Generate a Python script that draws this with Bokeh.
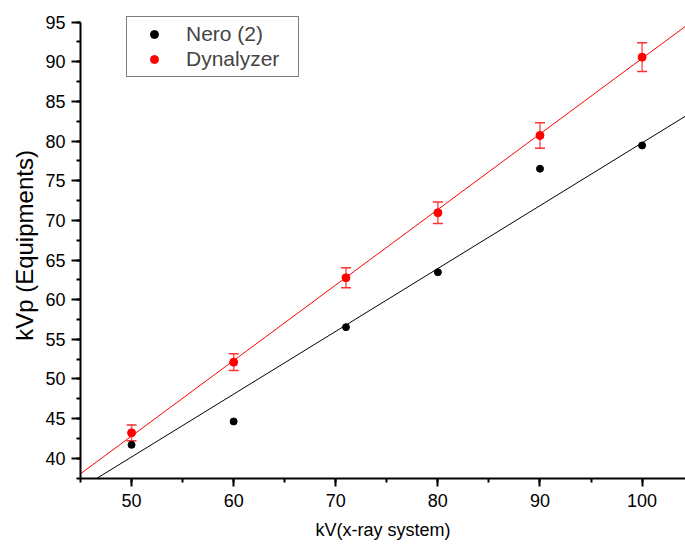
import numpy as np
from bokeh.plotting import figure
from bokeh.models import (ColumnDataSource, Whisker, TeeHead, Legend, LegendItem,
                          SingleIntervalTicker, FixedTicker, LinearAxis, Range1d)
from bokeh.embed import file_html
from bokeh.resources import INLINE

# ---- data ----
kv_system = [50, 60, 71, 80, 90, 100]
nero_kvp = [41.69, 44.63, 56.53, 63.46, 76.51, 79.45]
dyn_kvp = [43.2, 52.11, 62.76, 70.96, 80.71, 90.59]
dyn_err = [1.0, 1.05, 1.25, 1.35, 1.6, 1.8]
# linear fits (slope, intercept) as drawn in the picture
nero_fit = [0.7925, 0.53]
dyn_fit = [0.9527, -4.84]
x_limits = [45, 104.25]
y_limits = [37.44, 96.22]
y_axis_top = 95

FONT = "Liberation Sans"

p = figure(width=685, height=545, output_backend="svg", toolbar_location=None,
           x_range=Range1d(*x_limits), y_range=Range1d(*y_limits),
           min_border_left=80, min_border_right=0, min_border_top=12,
           min_border_bottom=67)
p.outline_line_color = None
p.xgrid.visible = False
p.ygrid.visible = False
p.background_fill_color = "white"
p.border_fill_color = "white"

# fit lines
fx = np.array(x_limits, dtype=float)
black_line = p.line(fx, nero_fit[0] * fx + nero_fit[1], line_color="black", line_width=1)
red_line = p.line(fx, dyn_fit[0] * fx + dyn_fit[1], line_color="red", line_width=1)

# error bars
src = ColumnDataSource(dict(
    x=kv_system, y=dyn_kvp,
    upper=[v + e for v, e in zip(dyn_kvp, dyn_err)],
    lower=[v - e for v, e in zip(dyn_kvp, dyn_err)]))
w = Whisker(source=src, base="x", upper="upper", lower="lower",
            line_color="#ff3030", line_width=1.5, line_alpha=0.8,
            upper_head=TeeHead(size=10, line_color="#ff3030", line_width=1.5),
            lower_head=TeeHead(size=10, line_color="#ff3030", line_width=1.5))
p.add_layout(w)

nero_r = p.scatter(kv_system, nero_kvp, size=7, color="black")
dyn_r = p.scatter(kv_system, dyn_kvp, size=8, color="red")

# axes
for ax in (p.xaxis[0], p.yaxis[0]):
    ax.axis_line_width = 2
    ax.major_tick_line_width = 2
    ax.minor_tick_line_width = 2
    ax.major_tick_in = 0
    ax.minor_tick_in = 0
    ax.minor_tick_out = 4
    ax.major_label_text_font = FONT
    ax.major_label_text_font_size = "18px"
    ax.major_label_text_color = "black"
    ax.axis_label_text_font = FONT
    ax.axis_label_text_font_size = "18px"
    ax.axis_label_text_font_style = "normal"
    ax.axis_label_text_color = "black"

p.xaxis.ticker = SingleIntervalTicker(interval=10, num_minor_ticks=2)
p.yaxis.ticker = SingleIntervalTicker(interval=5, num_minor_ticks=2)
p.xaxis.major_tick_out = 8
p.yaxis.major_tick_out = 9
p.xaxis.major_label_standoff = 7
p.yaxis.major_label_standoff = 6
p.xaxis.axis_label = "kV(x-ray system)"
p.xaxis.axis_label_standoff = 10
p.yaxis.bounds = (y_limits[0], y_axis_top)

# y-axis title carried by a bare axis so it sits where the reference puts it
title_axis = LinearAxis(axis_label="kVp (Equipments)", ticker=FixedTicker(ticks=[]),
                        bounds=(52.0, 72.34), axis_line_color=None,
                        major_tick_line_color=None, minor_tick_line_color=None,
                        major_tick_out=0, minor_tick_out=0, major_label_standoff=0,
                        major_label_text_font_size="0px", axis_label_standoff=5,
                        axis_label_text_font=FONT, axis_label_text_font_size="24px",
                        axis_label_text_font_style="normal",
                        axis_label_text_color="black")
p.add_layout(title_axis, "left")

legend = Legend(items=[LegendItem(label="Nero (2)", renderers=[nero_r]),
                       LegendItem(label="Dynalyzer", renderers=[dyn_r])],
                location=(46, 401), padding=5, glyph_width=44, label_standoff=10,
                label_width=107, label_height=21, spacing=1,
                label_text_font=FONT, label_text_font_size="21px",
                border_line_color="black", border_line_width=1,
                background_fill_color="white", background_fill_alpha=1.0,
                margin=0)
p.add_layout(legend)

open("out.html", "w").write(file_html(p, INLINE))
